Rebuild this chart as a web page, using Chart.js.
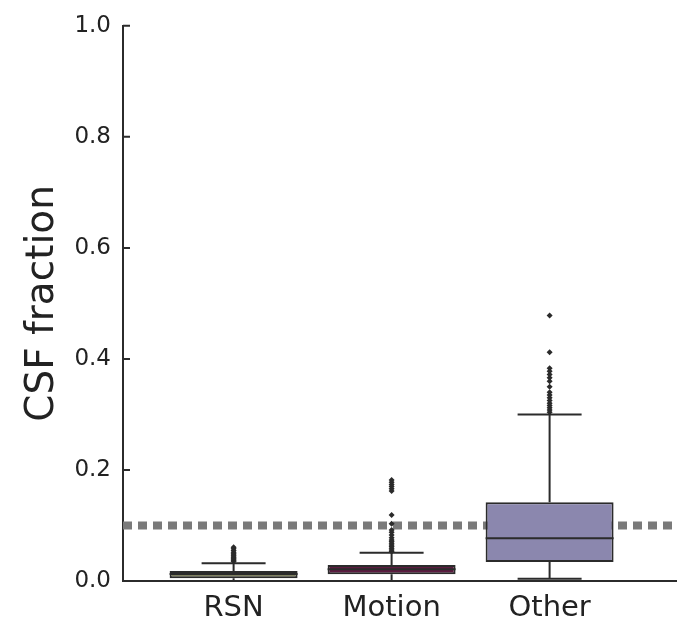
<!DOCTYPE html>
<html>
<head>
<meta charset="utf-8">
<script src="https://cdn.jsdelivr.net/npm/chart.js@4.4.1/dist/chart.umd.min.js"></script>
<style>
    html, body { margin: 0; padding: 0; background: #fff; }
    #wrap { width: 680px; height: 627px; }
</style>
</head>
<body>
<div id="wrap"><canvas id="boxChart"></canvas></div>
<script>
// Box plot of CSF fraction per component class

const categories = ['RSN', 'Motion', 'Other'];
const q1 = [0.005, 0.012, 0.034];
const medians = [0.0125, 0.021, 0.077];
const q3 = [0.018, 0.029, 0.142];
const whiskerLow = [0.0, 0.0, 0.004];
const whiskerHigh = [0.032, 0.051, 0.300];

const rsnOutliers = [0.035, 0.037, 0.039, 0.041, 0.043, 0.045, 0.047, 0.049, 0.052, 0.055, 0.058, 0.061];
const motionOutliers = [0.053, 0.056, 0.059, 0.062, 0.065, 0.068, 0.071, 0.074, 0.078, 0.083, 0.088, 0.092,
    0.103, 0.119, 0.162, 0.166, 0.170, 0.174, 0.178, 0.182];
const otherOutliers = [0.304, 0.308, 0.312, 0.316, 0.320, 0.325, 0.330, 0.335, 0.340, 0.350, 0.360,
    0.366, 0.372, 0.378, 0.383, 0.412, 0.478];

const threshold = 0.1;
const yTicks = [0.0, 0.2, 0.4, 0.6, 0.8, 1.0];

const boxColors = ['#7f8160', '#5c1b40', '#8b87ae'];
const edgeColor = '#2b2b2b';
const fontFamily = '"DejaVu Sans", sans-serif';

// outliers as {x, y} points at each category index
const outlierPoints = [rsnOutliers, motionOutliers, otherOutliers]
    .flatMap((list, i) => list.map(v => ({ x: i, y: v })));

// whiskers, caps and medians
const boxPlotPlugin = {
    id: 'boxPlot',
    afterDatasetsDraw(chart) {
        const ctx = chart.ctx;
        const xs = chart.scales.x;
        const ys = chart.scales.y;
        const bars = chart.getDatasetMeta(1).data;
        ctx.save();
        ctx.strokeStyle = edgeColor;
        ctx.lineWidth = 2;
        categories.forEach((c, i) => {
            const cx = xs.getPixelForValue(i);
            const w = bars[i].width;
            const cap = w / 4;
            ctx.beginPath();
            ctx.moveTo(cx, ys.getPixelForValue(q3[i]));
            ctx.lineTo(cx, ys.getPixelForValue(whiskerHigh[i]));
            ctx.moveTo(cx - cap, ys.getPixelForValue(whiskerHigh[i]));
            ctx.lineTo(cx + cap, ys.getPixelForValue(whiskerHigh[i]));
            ctx.moveTo(cx, ys.getPixelForValue(q1[i]));
            ctx.lineTo(cx, ys.getPixelForValue(whiskerLow[i]));
            ctx.moveTo(cx - cap, ys.getPixelForValue(whiskerLow[i]));
            ctx.lineTo(cx + cap, ys.getPixelForValue(whiskerLow[i]));
            ctx.moveTo(cx - w / 2, ys.getPixelForValue(medians[i]));
            ctx.lineTo(cx + w / 2, ys.getPixelForValue(medians[i]));
            ctx.stroke();
        });
        ctx.restore();
    },
    afterDraw(chart) {
        // inward ticks on the y spine
        const ctx = chart.ctx;
        const ys = chart.scales.y;
        const left = chart.chartArea.left;
        ctx.save();
        ctx.strokeStyle = edgeColor;
        ctx.lineWidth = 2;
        ctx.beginPath();
        ys.ticks.forEach(t => {
            const y = ys.getPixelForValue(t.value);
            ctx.moveTo(left, y);
            ctx.lineTo(left + 7, y);
        });
        ctx.stroke();
        ctx.restore();
    }
};

document.addEventListener('DOMContentLoaded', function() {
    const ctx = document.getElementById('boxChart');

    new Chart(ctx, {
        type: 'bar',
        data: {
            datasets: [{
                type: 'line',
                data: [{ x: -0.70, y: threshold }, { x: 2.80, y: threshold }],
                borderColor: '#7a7a7a',
                borderWidth: 8,
                borderDash: [9, 6],
                pointRadius: 0,
                order: 3
            }, {
                type: 'bar',
                data: categories.map((c, i) => ({ x: i, y: [q1[i], q3[i]] })),
                backgroundColor: boxColors,
                borderColor: edgeColor,
                borderWidth: 2,
                borderSkipped: false,
                barPercentage: 0.9,
                categoryPercentage: 0.9,
                order: 2
            }, {
                type: 'scatter',
                data: outlierPoints,
                pointStyle: 'rectRot',
                radius: 3,
                backgroundColor: edgeColor,
                borderColor: edgeColor,
                borderWidth: 0,
                order: 1
            }]
        },
        options: {
            responsive: true,
            maintainAspectRatio: false,
            animation: false,
            layout: {
                padding: { top: 25, right: 0, left: 0, bottom: 0 }
            },
            scales: {
                x: {
                    type: 'linear',
                    min: -0.70,
                    max: 2.80,
                    offset: false,
                    afterBuildTicks: function(scale) {
                        scale.ticks = categories.map((c, i) => ({ value: i }));
                    },
                    ticks: {
                        callback: function(value) {
                            return categories[value];
                        },
                        color: '#222',
                        padding: 10,
                        font: { family: fontFamily, size: 29 }
                    },
                    grid: { display: false, drawTicks: false, offset: false },
                    border: { display: true, color: edgeColor, width: 2 },
                    afterFit: function(scale) { scale.height = 46; }
                },
                y: {
                    min: 0,
                    max: 1,
                    afterBuildTicks: function(scale) {
                        scale.ticks = yTicks.map(v => ({ value: v }));
                    },
                    ticks: {
                        callback: function(value) {
                            return value.toFixed(1);
                        },
                        color: '#222',
                        padding: 12,
                        font: { family: fontFamily, size: 23 }
                    },
                    title: {
                        display: true,
                        text: 'CSF fraction',
                        color: '#222',
                        padding: { top: 19, bottom: 0 },
                        font: { family: fontFamily, size: 39 }
                    },
                    grid: { display: false, drawTicks: false },
                    border: { display: true, color: edgeColor, width: 2 },
                    afterFit: function(scale) { scale.width = 123; }
                }
            },
            plugins: {
                legend: { display: false },
                tooltip: { enabled: false }
            }
        },
        plugins: [boxPlotPlugin]
    });
});
</script>
</body>
</html>
